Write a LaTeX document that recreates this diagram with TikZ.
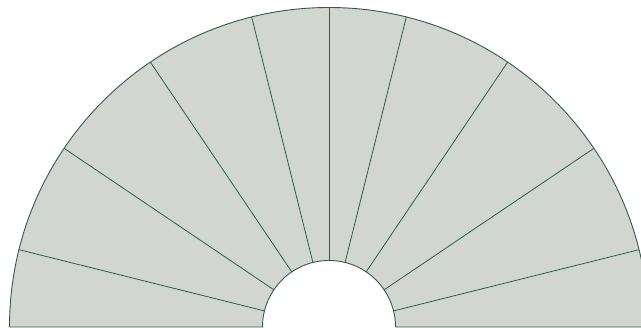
\documentclass[tikz,border=0pt]{standalone}
\usepackage{xcolor}
\definecolor{SectorFill}{HTML}{D1D6D0}
\definecolor{SectorLine}{HTML}{2F5D4A}
\tikzset{
  sector/.style={fill=SectorFill,draw=SectorLine,line width=0.9pt},
  spoke/.style={draw=SectorLine,line width=0.8pt},
}
\begin{document}
\begin{tikzpicture}[x=1pt,y=1pt]
  \useasboundingbox (-329,-1) rectangle (312,327);
  \clip (-329,-1) rectangle (312,327);
  \def\rin{66.5}
  \def\rout{319.5}
  % half ring
  \path[sector] (180:\rout) arc[start angle=180,end angle=0,radius=\rout]
    -- (0:\rin) arc[start angle=0,end angle=180,radius=\rin] -- cycle;
  % dividing lines
  \foreach \a in {14,34,56,76,90,104,124,146,166}
    \draw[spoke] (\a:\rin) -- (\a:\rout);
\end{tikzpicture}
\end{document}
